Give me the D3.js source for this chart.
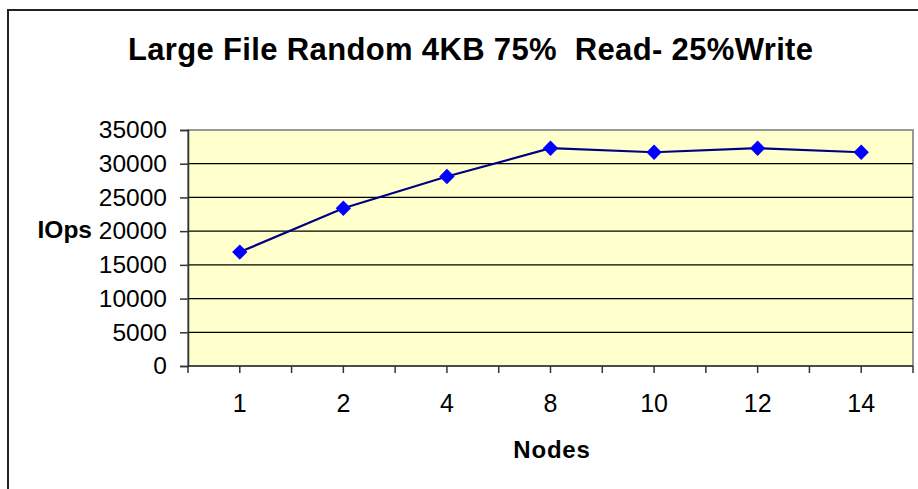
<!DOCTYPE html>
<html>
<head>
<meta charset="utf-8">
<script src="https://cdn.jsdelivr.net/npm/d3@7"></script>
<style>
  body { margin: 0; background: #fff; }
  svg { display: block; font-family: "Liberation Sans", Arial, sans-serif; }
</style>
</head>
<body>
<div class="chart"></div>
<script>
// Large File Random 4KB 75% Read - 25% Write

var nodes = ["1", "2", "4", "8", "10", "12", "14"];
var iops = [16900, 23400, 28100, 32300, 31700, 32300, 31700];
var yTicks = [0, 5000, 10000, 15000, 20000, 25000, 30000, 35000];

var svgWidth = 918;
var svgHeight = 489;

var margin = { top: 130, right: 5, bottom: 123, left: 188 };
var width = svgWidth - margin.left - margin.right;
var height = svgHeight - margin.top - margin.bottom;

var svg = d3.select(".chart")
  .append("svg")
  .attr("width", svgWidth)
  .attr("height", svgHeight);

// outer chart frame (runs off the right and bottom edge)
svg.append("rect")
  .attr("x", 8)
  .attr("y", 10)
  .attr("width", 940)
  .attr("height", 500)
  .attr("fill", "none")
  .attr("stroke", "#222")
  .attr("stroke-width", 2);

svg.append("text")
  .attr("x", 128)
  .attr("y", 60)
  .attr("font-size", 31)
  .attr("font-weight", "bold")
  .attr("textLength", 685)
  .attr("lengthAdjust", "spacing")
  .style("white-space", "pre")
  .text("Large File Random 4KB 75%  Read- 25%Write");

var chart = svg.append("g")
  .attr("transform", "translate(" + margin.left + "," + margin.top + ")");

var xScale = d3.scaleBand()
  .domain(nodes)
  .range([0, width]);

var yScale = d3.scaleLinear()
  .domain([0, 35000])
  .range([height, 0]);

// plot area
chart.append("rect")
  .attr("width", width)
  .attr("height", height)
  .attr("fill", "#ffffcc")
  .attr("stroke", "#999")
  .attr("stroke-width", 2);

// gridlines
chart.selectAll(".grid")
  .data(yTicks.filter(function(d) { return d > 0 && d < 35000; }))
  .enter().append("line")
  .attr("class", "grid")
  .attr("x1", 0)
  .attr("x2", width)
  .attr("y1", function(d) { return yScale(d); })
  .attr("y2", function(d) { return yScale(d); })
  .attr("stroke", "#000")
  .attr("stroke-width", 1.2);

// y axis
var leftAxis = d3.axisLeft(yScale)
  .tickValues(yTicks)
  .tickSize(8)
  .tickPadding(13)
  .tickFormat(d3.format("d"));

var yAxis = chart.append("g").call(leftAxis);

// x axis: ticks at category edges and centres
var xTickPos = [];
nodes.forEach(function(n) {
  xTickPos.push(xScale(n));
  xTickPos.push(xScale(n) + xScale.bandwidth() / 2);
});
xTickPos.push(width);

var xAxis = chart.append("g")
  .attr("transform", "translate(0," + height + ")");

xAxis.append("line")
  .attr("x1", 0)
  .attr("x2", width)
  .attr("stroke", "#333")
  .attr("stroke-width", 1.5);

xAxis.selectAll(".xtick")
  .data(xTickPos)
  .enter().append("line")
  .attr("class", "xtick")
  .attr("x1", function(d) { return d; })
  .attr("x2", function(d) { return d; })
  .attr("y1", 0)
  .attr("y2", 7)
  .attr("stroke", "#333")
  .attr("stroke-width", 1.5);

xAxis.selectAll(".xlabel")
  .data(nodes)
  .enter().append("text")
  .attr("class", "xlabel")
  .attr("x", function(d) { return xScale(d) + xScale.bandwidth() / 2; })
  .attr("y", 46)
  .attr("text-anchor", "middle")
  .attr("font-size", 25)
  .text(function(d) { return d; });

yAxis.select(".domain").attr("stroke", "#333").attr("stroke-width", 1.5);
yAxis.selectAll(".tick line").attr("stroke", "#333").attr("stroke-width", 1.5);
yAxis.selectAll(".tick text")
  .attr("font-size", 24.5)
  .attr("font-family", "Liberation Sans, Arial, sans-serif")
  .attr("fill", "#000");

// line + diamond markers
var line = d3.line()
  .x(function(d, i) { return xScale(nodes[i]) + xScale.bandwidth() / 2; })
  .y(function(d) { return yScale(d); });

chart.append("path")
  .datum(iops)
  .attr("d", line)
  .attr("fill", "none")
  .attr("stroke", "#000080")
  .attr("stroke-width", 2.2);

chart.selectAll(".pt")
  .data(iops)
  .enter().append("path")
  .attr("class", "pt")
  .attr("transform", function(d, i) {
    return "translate(" + (xScale(nodes[i]) + xScale.bandwidth() / 2) + "," + yScale(d) + ")";
  })
  .attr("d", d3.symbol().type(d3.symbolDiamond2).size(150))
  .attr("fill", "#0000ff");

// axis titles
svg.append("text")
  .attr("x", 92)
  .attr("y", 238)
  .attr("text-anchor", "end")
  .attr("font-size", 24.5)
  .attr("font-weight", "bold")
  .text("IOps");

svg.append("text")
  .attr("x", 552)
  .attr("y", 458)
  .attr("text-anchor", "middle")
  .attr("font-size", 24)
  .attr("font-weight", "bold")
  .attr("letter-spacing", 0.8)
  .text("Nodes");
</script>
</body>
</html>
